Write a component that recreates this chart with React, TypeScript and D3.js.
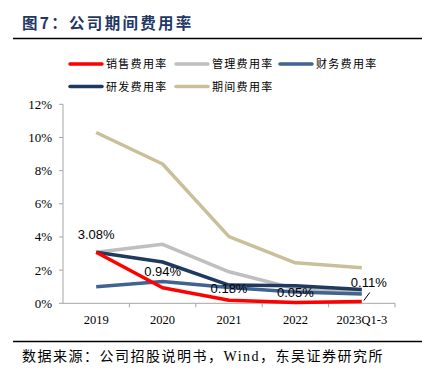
import React from "react";
import * as d3 from "d3";

const categories = ["2019", "2020", "2021", "2022", "2023Q1-3"];
const seriesNames = ["销售费用率", "管理费用率", "财务费用率", "研发费用率", "期间费用率"];
const salesRate = [3.08, 0.94, 0.18, 0.05, 0.11];
const adminRate = [3.08, 3.56, 1.9, 0.88, 0.68];
const financeRate = [1.0, 1.32, 0.95, 0.68, 0.56];
const rdRate = [3.08, 2.49, 1.1, 1.06, 0.83];
const periodRate = [10.3, 8.4, 4.02, 2.44, 2.14];
const yTicks = [0, 2, 4, 6, 8, 10, 12];
const salesLabels = ["3.08%", "0.94%", "0.18%", "0.05%", "0.11%"];

const colors = ["#FF0000", "#BFBFBF", "#41638F", "#1F3A60", "#C9C09A"];

export default function App() {
  const W = 422, H = 382;
  const x0 = 63, x1 = 395, yTop = 104.3, yBot = 303.3;
  const x = d3.scaleBand<string>().domain(categories).range([x0, x1]);
  const y = d3.scaleLinear().domain([0, 12]).range([yBot, yTop]);
  const cx = (c: string) => (x(c) as number) + x.bandwidth() / 2;
  const line = d3.line<number>().x((_, i) => cx(categories[i])).y((d) => y(d));
  const allSeries = [salesRate, adminRate, financeRate, rdRate, periodRate];
  const drawOrder = [4, 1, 3, 2, 0];
  const serif = "'Liberation Serif', 'Times New Roman', serif";
  const cjk = "'Noto Sans CJK SC', sans-serif";
  const sans = "'Liberation Sans', Arial, sans-serif";

  const legendItems = [
    { i: 0, lx: 70, ly: 64 },
    { i: 1, lx: 176, ly: 64 },
    { i: 2, lx: 280, ly: 64 },
    { i: 3, lx: 70, ly: 86.5 },
    { i: 4, lx: 176, ly: 86.5 },
  ];

  const labelOffsets = [
    { dx: 0, dy: -13 },
    { dx: 0, dy: -12 },
    { dx: 0, dy: -7 },
    { dx: 0, dy: -5 },
    { dx: 7, dy: -14 },
  ];

  return (
    <svg width={W} height={H} style={{ position: "absolute", left: 0, top: 0 }}>
      <rect width={W} height={H} fill="#fff" />
      <text x={22} y={29} fontFamily={cjk} fontWeight={700} fontSize={15.5} fill="#1F3864" letterSpacing={2.3}>
        图7：公司期间费用率
      </text>
      <line x1={13} x2={422} y1={38.5} y2={38.5} stroke="#000" strokeWidth={1.6} />

      {legendItems.map(({ i, lx, ly }) => (
        <g key={i}>
          <line x1={lx} x2={lx + 32} y1={ly} y2={ly} stroke={colors[i]} strokeWidth={3.5} strokeLinecap="round" />
          <text x={lx + 36} y={ly + 4} fontFamily={cjk} fontSize={11} fill="#000" letterSpacing={1.3}>
            {seriesNames[i]}
          </text>
        </g>
      ))}

      <line x1={x0} x2={x0} y1={yTop} y2={yBot} stroke="#A6A6A6" strokeWidth={1} />
      <line x1={x0} x2={x1} y1={yBot} y2={yBot} stroke="#A6A6A6" strokeWidth={1} />
      {yTicks.map((t) => (
        <g key={t}>
          <line x1={x0 - 4} x2={x0} y1={y(t)} y2={y(t)} stroke="#A6A6A6" />
          <text x={52} y={y(t) + 4.5} textAnchor="end" fontFamily={serif} fontSize={13} fill="#000">
            {t}%
          </text>
        </g>
      ))}
      {categories.map((c, i) => (
        <g key={c}>
          {i > 0 && (
            <line x1={x(c) as number} x2={x(c) as number} y1={yBot} y2={yBot + 4} stroke="#A6A6A6" />
          )}
          <text x={cx(c)} y={yBot + 21} textAnchor="middle" fontFamily={serif} fontSize={12.5} fill="#000">
            {c}
          </text>
        </g>
      ))}
      <line x1={x1} x2={x1} y1={yBot} y2={yBot + 4} stroke="#A6A6A6" />

      {drawOrder.map((i) => (
        <path key={i} d={line(allSeries[i]) || ""} fill="none" stroke={colors[i]} strokeWidth={3.5} strokeLinejoin="round" />
      ))}

      <line
        x1={cx(categories[4]) + 2}
        y1={y(salesRate[4]) - 1}
        x2={cx(categories[4]) + 8}
        y2={y(salesRate[4]) - 9}
        stroke="#000"
        strokeWidth={1}
      />
      {salesLabels.map((l, i) => (
        <text
          key={i}
          x={cx(categories[i]) + labelOffsets[i].dx}
          y={y(salesRate[i]) + labelOffsets[i].dy}
          textAnchor="middle"
          fontFamily={sans}
          fontSize={13}
          fill="#000"
        >
          {l}
        </text>
      ))}

      <line x1={13} x2={422} y1={341.5} y2={341.5} stroke="#000" strokeWidth={1.6} />
      <text x={22} y={361} fontFamily={serif} fontSize={14} fill="#000" letterSpacing={1.5}>
        <tspan fontFamily={cjk}>数据来源：公司招股说明书，</tspan>
        <tspan>Wind</tspan>
        <tspan fontFamily={cjk}>，东吴证券研究所</tspan>
      </text>
    </svg>
  );
}
